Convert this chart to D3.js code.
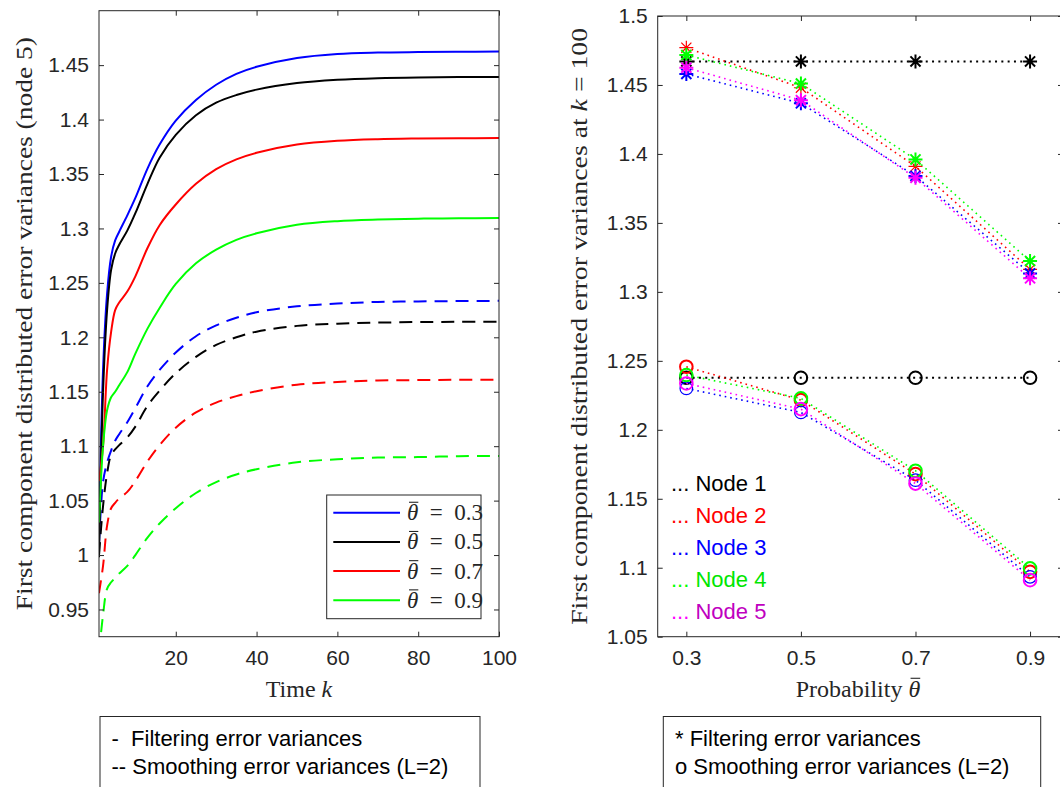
<!DOCTYPE html>
<html>
<head>
<meta charset="utf-8">
<script src="https://cdn.jsdelivr.net/npm/d3@7"></script>
<style>
body { margin: 0; background: #fff; }
svg { display: block; }
</style>
</head>
<body>
<svg id="fig" width="1060" height="787"></svg>
<script>
// ---------------- data: left panel (node 5 over time) ----------------
var timeK = [1, 2, 3, 4, 5, 6, 8, 10, 13, 16, 20, 25, 30, 35, 40, 50, 60, 70, 80, 90, 100];
var thetaLabels = ["0.3", "0.5", "0.7", "0.9"];

var filt03 = [1.015, 1.17, 1.24, 1.274, 1.289, 1.297, 1.312, 1.328, 1.355, 1.377, 1.399, 1.418, 1.432, 1.442, 1.4485, 1.4565, 1.4602, 1.4615, 1.462, 1.4623, 1.4625];
var filt05 = [0.998, 1.15, 1.225, 1.262, 1.277, 1.285, 1.298, 1.314, 1.341, 1.365, 1.386, 1.404, 1.4155, 1.4225, 1.4275, 1.4335, 1.4365, 1.438, 1.4387, 1.439, 1.439];
var filt07 = [1.068, 1.10, 1.17, 1.205, 1.225, 1.232, 1.242, 1.256, 1.282, 1.303, 1.322, 1.341, 1.3545, 1.3635, 1.3695, 1.377, 1.3805, 1.382, 1.3826, 1.3829, 1.383];
var filt09 = [1.03, 1.10, 1.133, 1.145, 1.150, 1.156, 1.168, 1.185, 1.208, 1.227, 1.249, 1.268, 1.2805, 1.2895, 1.2955, 1.3033, 1.3067, 1.3082, 1.309, 1.3093, 1.3095];

var smooth03 = [1.01, 1.067, 1.085, 1.096, 1.105, 1.111, 1.122, 1.135, 1.155, 1.170, 1.186, 1.201, 1.211, 1.218, 1.223, 1.2285, 1.231, 1.2325, 1.233, 1.2333, 1.2335];
var smooth05 = [1.0, 1.045, 1.075, 1.092, 1.097, 1.101, 1.108, 1.118, 1.137, 1.151, 1.167, 1.182, 1.193, 1.200, 1.2052, 1.2105, 1.2125, 1.2135, 1.214, 1.2142, 1.2143];
var smooth07 = [0.965, 0.99, 1.027, 1.043, 1.048, 1.052, 1.058, 1.068, 1.086, 1.101, 1.117, 1.131, 1.140, 1.146, 1.1505, 1.1565, 1.159, 1.1603, 1.1607, 1.161, 1.161];
var smooth09 = [0.91, 0.945, 0.969, 0.975, 0.979, 0.983, 0.990, 1.0, 1.016, 1.029, 1.043, 1.057, 1.067, 1.074, 1.0788, 1.0852, 1.088, 1.0895, 1.090, 1.0908, 1.091];

var leftXTicks = [20, 40, 60, 80, 100];
var leftYTicks = [0.95, 1, 1.05, 1.1, 1.15, 1.2, 1.25, 1.3, 1.35, 1.4, 1.45];

// ---------------- data: right panel (k = 100 vs probability) ----------------
var probTheta = [0.3, 0.5, 0.7, 0.9];
var nodeNames = ["Node 1", "Node 2", "Node 3", "Node 4", "Node 5"];

var filtNode1 = [1.4671, 1.4671, 1.4671, 1.4671];
var filtNode2 = [1.477, 1.448, 1.391, 1.3163];
var filtNode3 = [1.458, 1.4367, 1.384, 1.3134];
var filtNode4 = [1.4717, 1.451, 1.396, 1.3223];
var filtNode5 = [1.4625, 1.439, 1.3827, 1.3098];

var smoothNode1 = [1.2377, 1.2377, 1.2377, 1.2377];
var smoothNode2 = [1.2457, 1.2215, 1.1679, 1.097];
var smoothNode3 = [1.230, 1.2126, 1.1635, 1.0934];
var smoothNode4 = [1.2397, 1.2228, 1.1703, 1.0995];
var smoothNode5 = [1.2336, 1.215, 1.161, 1.091];

var rightXTicks = [0.3, 0.5, 0.7, 0.9];
var rightYTicks = [1.05, 1.1, 1.15, 1.2, 1.25, 1.3, 1.35, 1.4, 1.45, 1.5];

// ---------------- styling ----------------
var thetaColors = ["#0000ff", "#000000", "#ff0000", "#00ff00"];
var nodeColors = ["#000000", "#ff0000", "#0000ff", "#00ff00", "#ff00ff"];
var nodeTextColors = ["#000000", "#ff0000", "#0000ff", "#00e600", "#bf00bf"];
var axisColor = "#262626";
var sans = "'Liberation Sans', Arial, Helvetica, sans-serif";
var serif = "'Liberation Serif', 'Times New Roman', serif";
var fmt = function(d) { return String(+d.toFixed(2)); };

var svg = d3.select("#fig");
svg.append("rect").attr("width", 1060).attr("height", 787).attr("fill", "#fff");

function styleAxis(g, size) {
	g.select(".domain").remove();
	g.selectAll(".tick line").attr("stroke", axisColor);
	g.selectAll(".tick text")
		.attr("fill", axisColor)
		.style("font-family", sans)
		.style("font-size", size + "px");
}

function overline(parent, textNode, idx, baseline, size) {
	var ext = textNode.getExtentOfChar(idx);
	parent.append("line")
		.attr("x1", ext.x + ext.width * 0.18)
		.attr("x2", ext.x + ext.width * 1.0)
		.attr("y1", baseline - size * 0.78)
		.attr("y2", baseline - size * 0.78)
		.attr("stroke", axisColor)
		.attr("stroke-width", 1.1);
}

///////////////////////////////////////////////////////////////////////////
//////////////////////////// Left panel ///////////////////////////////////
///////////////////////////////////////////////////////////////////////////

var L = { left: 99, right: 499, top: 10.7, bottom: 636.7 };
var xL = d3.scaleLinear().domain([1, 100]).range([L.left, L.right]);
var yL = d3.scaleLinear().domain([0.925, 1.5]).range([L.bottom, L.top]);

var gL = svg.append("g");
gL.append("clipPath").attr("id", "clipL")
	.append("rect")
	.attr("x", L.left).attr("y", L.top)
	.attr("width", L.right - L.left).attr("height", L.bottom - L.top);

var lineL = d3.line()
	.x(function(d, i) { return xL(timeK[i]); })
	.y(function(d) { return yL(d); })
	.curve(d3.curveCatmullRom.alpha(0.5));

var filtSeries = [filt03, filt05, filt07, filt09];
var smoothSeries = [smooth03, smooth05, smooth07, smooth09];

var plotL = gL.append("g").attr("clip-path", "url(#clipL)");
smoothSeries.forEach(function(s, i) {
	plotL.append("path").attr("d", lineL(s))
		.attr("fill", "none").attr("stroke", thetaColors[i])
		.attr("stroke-width", 2).attr("stroke-dasharray", "13,8");
});
filtSeries.forEach(function(s, i) {
	plotL.append("path").attr("d", lineL(s))
		.attr("fill", "none").attr("stroke", thetaColors[i])
		.attr("stroke-width", 2);
});

// axes (ticks inward, box on)
gL.append("g").attr("transform", "translate(0," + L.bottom + ")")
	.call(d3.axisBottom(xL).tickValues(leftXTicks).tickSizeInner(-5).tickSizeOuter(0).tickPadding(13).tickFormat(d3.format("d")))
	.call(styleAxis, 21);
gL.append("g").attr("transform", "translate(0," + L.top + ")")
	.call(d3.axisTop(xL).tickValues(leftXTicks).tickSizeInner(-5).tickSizeOuter(0).tickFormat(""))
	.call(styleAxis, 21);
gL.append("g").attr("transform", "translate(" + L.left + ",0)")
	.call(d3.axisLeft(yL).tickValues(leftYTicks).tickSizeInner(-5).tickSizeOuter(0).tickPadding(10).tickFormat(fmt))
	.call(styleAxis, 21);
gL.append("g").attr("transform", "translate(" + L.right + ",0)")
	.call(d3.axisRight(yL).tickValues(leftYTicks).tickSizeInner(-5).tickSizeOuter(0).tickFormat(""))
	.call(styleAxis, 21);
gL.append("rect")
	.attr("x", L.left).attr("y", L.top)
	.attr("width", L.right - L.left).attr("height", L.bottom - L.top)
	.attr("fill", "none").attr("stroke", axisColor).attr("stroke-width", 1);

// axis labels
gL.append("text")
	.attr("transform", "translate(24," + (L.top + L.bottom) / 2 + ") rotate(-90)")
	.attr("text-anchor", "middle").attr("dy", "0.35em")
	.attr("textLength", 573).attr("lengthAdjust", "spacingAndGlyphs")
	.style("font-family", serif).style("font-size", "24px").attr("fill", axisColor)
	.text("First component distributed error variances (node 5)");

var timeLab = gL.append("text")
	.attr("x", (L.left + L.right) / 2).attr("y", 697)
	.attr("text-anchor", "middle")
	.style("font-family", serif).style("font-size", "24px").attr("fill", axisColor);
timeLab.append("tspan").text("Time ");
timeLab.append("tspan").style("font-style", "italic").text("k");

// legend box
var legL = gL.append("g");
legL.append("rect")
	.attr("x", 326.7).attr("y", 495).attr("width", 154.3).attr("height", 123.7)
	.attr("fill", "#fff").attr("stroke", axisColor).attr("stroke-width", 1);
thetaLabels.forEach(function(t, i) {
	var ly = 512.7 + i * 29.2;
	legL.append("line")
		.attr("x1", 333.3).attr("x2", 400).attr("y1", ly).attr("y2", ly)
		.attr("stroke", thetaColors[i]).attr("stroke-width", 2);
	var tx = legL.append("text")
		.attr("x", 407).attr("y", ly + 7.5)
		.attr("xml:space", "preserve")
		.style("font-family", serif).style("font-size", "23px").attr("fill", axisColor);
	tx.append("tspan").style("font-style", "italic").text("θ");
	tx.append("tspan").text("  =  " + t);
	overline(legL, tx.node(), 0, ly + 7.5, 23);
});

///////////////////////////////////////////////////////////////////////////
//////////////////////////// Right panel //////////////////////////////////
///////////////////////////////////////////////////////////////////////////

var R = { left: 657.7, right: 1063, top: 16, bottom: 636.7 };
var xR = d3.scaleLinear().domain([0.25, 0.9575]).range([R.left, R.right]);
var yR = d3.scaleLinear().domain([1.05, 1.5]).range([R.bottom, R.top]);

var gR = svg.append("g");

var filtNodes = [filtNode1, filtNode2, filtNode3, filtNode4, filtNode5];
var smoothNodes = [smoothNode1, smoothNode2, smoothNode3, smoothNode4, smoothNode5];
var starWidths = [2, 1.2, 2, 2, 2];
var circleWidths = [2, 2, 1.2, 2, 2];

var lineR = d3.line()
	.x(function(d, i) { return xR(probTheta[i]); })
	.y(function(d) { return yR(d); });

function starPath(cx, cy, r) {
	var d = r * 0.72;
	return "M" + (cx - r) + "," + cy + "H" + (cx + r) +
		"M" + cx + "," + (cy - r) + "V" + (cy + r) +
		"M" + (cx - d) + "," + (cy - d) + "L" + (cx + d) + "," + (cy + d) +
		"M" + (cx - d) + "," + (cy + d) + "L" + (cx + d) + "," + (cy - d);
}

[filtNodes, smoothNodes].forEach(function(group, gi) {
	group.forEach(function(vals, n) {
		gR.append("path").attr("d", lineR(vals))
			.attr("fill", "none").attr("stroke", nodeColors[n])
			.attr("stroke-width", n === 0 ? 2 : 1.6)
			.attr("stroke-dasharray", n === 0 ? "2,4.3" : "1.6,4");
		vals.forEach(function(v, i) {
			if (gi === 0) {
				gR.append("path")
					.attr("d", starPath(xR(probTheta[i]), yR(v), 7))
					.attr("fill", "none").attr("stroke", nodeColors[n])
					.attr("stroke-width", starWidths[n]);
			} else {
				gR.append("circle")
					.attr("cx", xR(probTheta[i])).attr("cy", yR(v)).attr("r", 6.3)
					.attr("fill", "none").attr("stroke", nodeColors[n])
					.attr("stroke-width", circleWidths[n]);
			}
		});
	});
});

gR.append("g").attr("transform", "translate(0," + R.bottom + ")")
	.call(d3.axisBottom(xR).tickValues(rightXTicks).tickSizeInner(-5).tickSizeOuter(0).tickPadding(13).tickFormat(fmt))
	.call(styleAxis, 21);
gR.append("g").attr("transform", "translate(0," + R.top + ")")
	.call(d3.axisTop(xR).tickValues(rightXTicks).tickSizeInner(-5).tickSizeOuter(0).tickFormat(""))
	.call(styleAxis, 21);
gR.append("g").attr("transform", "translate(" + R.left + ",0)")
	.call(d3.axisLeft(yR).tickValues(rightYTicks).tickSizeInner(-5).tickSizeOuter(0).tickPadding(10).tickFormat(fmt))
	.call(styleAxis, 21);
gR.append("g").attr("transform", "translate(" + R.right + ",0)")
	.call(d3.axisRight(yR).tickValues(rightYTicks).tickSizeInner(-5).tickSizeOuter(0).tickFormat(""))
	.call(styleAxis, 21);
gR.append("rect")
	.attr("x", R.left).attr("y", R.top)
	.attr("width", R.right - R.left).attr("height", R.bottom - R.top)
	.attr("fill", "none").attr("stroke", axisColor).attr("stroke-width", 1);

// node legend (plain coloured text)
nodeNames.forEach(function(name, n) {
	var t = gR.append("text")
		.attr("x", 671).attr("y", 491 + n * 32)
		.attr("xml:space", "preserve")
		.style("font-family", sans).style("font-size", "22px");
	t.append("tspan").attr("fill", nodeColors[n]).text("... ");
	t.append("tspan").attr("fill", nodeTextColors[n]).text(name);
});

// axis labels
var yLabR = gR.append("text")
	.attr("transform", "translate(579," + (R.top + R.bottom) / 2 + ") rotate(-90)")
	.attr("text-anchor", "middle").attr("dy", "0.35em")
	.attr("textLength", 597).attr("lengthAdjust", "spacingAndGlyphs")
	.attr("xml:space", "preserve")
	.style("font-family", serif).style("font-size", "24px").attr("fill", axisColor);
yLabR.append("tspan").text("First component distributed error variances at ");
yLabR.append("tspan").style("font-style", "italic").text("k");
yLabR.append("tspan").text(" = 100");

var probLab = gR.append("text")
	.attr("x", 858).attr("y", 697)
	.attr("text-anchor", "middle")
	.attr("xml:space", "preserve")
	.style("font-family", serif).style("font-size", "24px").attr("fill", axisColor);
probLab.append("tspan").text("Probability ");
probLab.append("tspan").style("font-style", "italic").text("θ");
overline(gR, probLab.node(), 12, 697, 24);

///////////////////////////////////////////////////////////////////////////
//////////////////////////// Bottom note boxes ////////////////////////////
///////////////////////////////////////////////////////////////////////////

var notes = [
	{ x: 100, w: 380, tx: 111.5, lines: ["-  Filtering error variances", "-- Smoothing error variances (L=2)"] },
	{ x: 663.3, w: 377.4, tx: 675, lines: ["* Filtering error variances", "o Smoothing error variances (L=2)"] }
];
notes.forEach(function(nb) {
	svg.append("rect")
		.attr("x", nb.x).attr("y", 716.5).attr("width", nb.w).attr("height", 90)
		.attr("fill", "#fff").attr("stroke", axisColor).attr("stroke-width", 1);
	nb.lines.forEach(function(s, i) {
		svg.append("text")
			.attr("x", nb.tx).attr("y", 746 + i * 28)
			.attr("xml:space", "preserve")
			.style("font-family", sans).style("font-size", "22px").attr("fill", "#000")
			.text(s);
	});
});
</script>
</body>
</html>
